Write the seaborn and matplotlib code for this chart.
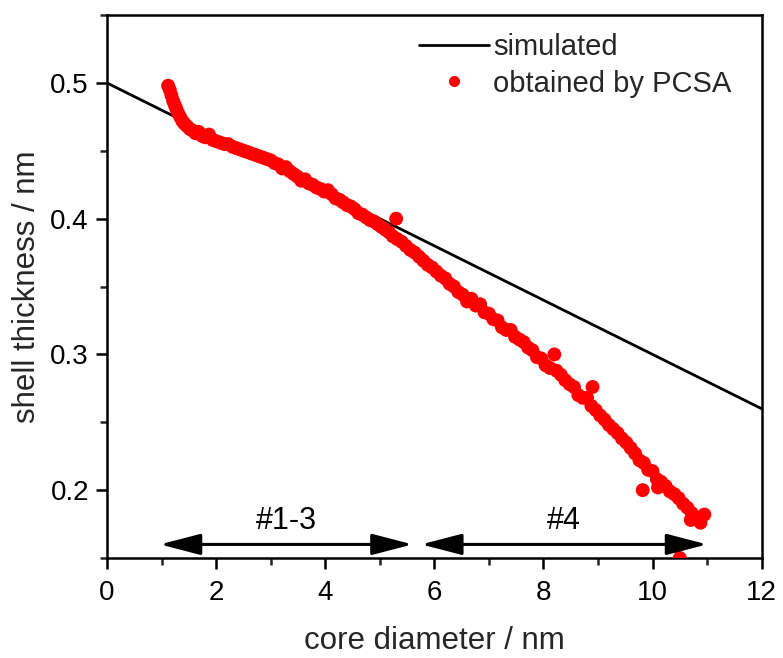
import numpy as np
import pandas as pd
import matplotlib
matplotlib.use("Agg")
import matplotlib.pyplot as plt
import seaborn as sns
from matplotlib.patches import FancyArrowPatch
from matplotlib.lines import Line2D
from matplotlib.ticker import MultipleLocator

# simulated line
sim_x = [0.0, 12.0]
sim_y = [0.500, 0.260]

# PCSA data
pcsa_x = [1.12, 1.15, 1.18, 1.21, 1.24, 1.27, 1.30, 1.34, 1.38, 1.42, 1.47, 1.52, 1.57, 1.62,
          1.68, 1.74, 1.80, 1.87, 1.94, 2.01,
          2.08, 2.15, 2.22, 2.30, 2.37, 2.44, 2.51, 2.58, 2.65, 2.72, 2.79, 2.86, 2.93, 3.00,
          3.07, 3.14, 3.21, 3.28, 3.35, 3.42, 3.49, 3.56, 3.63, 3.70, 3.77, 3.84, 3.91, 3.98,
          4.05, 4.12, 4.19, 4.26, 4.33, 4.40, 4.47, 4.54, 4.61, 4.68, 4.75, 4.82, 4.89, 4.96,
          5.03, 5.10, 5.17, 5.24, 5.30, 5.32,
          5.40, 5.48, 5.56, 5.64, 5.72, 5.80, 5.88, 5.96, 6.04, 6.12, 6.20, 6.28, 6.36, 6.44,
          6.52, 6.60, 6.68, 6.76, 6.84, 6.92, 7.00, 7.08, 7.16, 7.24, 7.32, 7.40, 7.48, 7.56,
          7.64, 7.72, 7.80, 7.88, 7.96, 8.04, 8.12, 8.20, 8.24, 8.32, 8.40, 8.48, 8.56, 8.64,
          8.72, 8.80, 8.90, 8.88, 8.96, 9.04, 9.12, 9.20, 9.28, 9.36, 9.44, 9.52, 9.60, 9.68,
          9.76, 9.82, 9.84, 9.92, 10.00, 10.08, 10.10, 10.16, 10.24, 10.32, 10.40, 10.48,
          10.56, 10.64, 10.70, 10.72, 10.80, 10.88, 10.95, 10.50]
pcsa_y = [0.498, 0.495, 0.491, 0.487, 0.484, 0.481, 0.478, 0.475, 0.472, 0.470, 0.468, 0.466, 0.465, 0.463,
          0.464, 0.461, 0.460, 0.462, 0.458, 0.457,
          0.456, 0.455, 0.455, 0.453, 0.452, 0.451, 0.450, 0.449, 0.448, 0.447, 0.446, 0.445, 0.444, 0.443,
          0.441, 0.440, 0.437, 0.438, 0.435, 0.433, 0.431, 0.428, 0.429, 0.426, 0.425, 0.423, 0.422, 0.420,
          0.421, 0.418, 0.415, 0.414, 0.412, 0.410, 0.409, 0.407, 0.404, 0.403, 0.401, 0.399, 0.398, 0.396,
          0.394, 0.392, 0.390, 0.387, 0.400, 0.385,
          0.383, 0.380, 0.377, 0.375, 0.372, 0.369, 0.366, 0.364, 0.361, 0.358, 0.356, 0.352, 0.350, 0.346,
          0.344, 0.339, 0.341, 0.336, 0.337, 0.331, 0.330, 0.326, 0.325, 0.320, 0.318, 0.318, 0.313, 0.311,
          0.309, 0.305, 0.303, 0.298, 0.297, 0.292, 0.290, 0.300, 0.288, 0.285, 0.281, 0.278, 0.276, 0.270,
          0.268, 0.268, 0.276, 0.262, 0.259, 0.255, 0.252, 0.248, 0.245, 0.242, 0.238, 0.235, 0.231, 0.227,
          0.222, 0.200, 0.220, 0.215, 0.214, 0.208, 0.202, 0.206, 0.203, 0.199, 0.197, 0.194,
          0.190, 0.187, 0.178, 0.183, 0.180, 0.176, 0.182, 0.150]

# range arrows and labels
range_labels = ["#1-3", "#4"]
range_start = [0.97, 5.76]
range_end = [5.60, 11.00]
arrow_y = 0.160
label_y = 0.166

sns.set_theme(style="ticks")
plt.rcParams['font.family'] = ['Liberation Sans', 'DejaVu Sans']

fig = plt.figure(figsize=(7.83, 6.58), dpi=100)
ax = fig.add_axes([0.1367, 0.152, 0.836, 0.825])

sim_df = pd.DataFrame({"x": sim_x, "y": sim_y})
pcsa_df = pd.DataFrame({"x": pcsa_x, "y": pcsa_y})

sns.lineplot(data=sim_df, x="x", y="y", ax=ax, color="black", linewidth=2.0, zorder=2)
sns.scatterplot(data=pcsa_df, x="x", y="y", ax=ax, color="#ff0000", s=100,
                edgecolor="none", linewidth=0, zorder=3)

for lab, xs, xe in zip(range_labels, range_start, range_end):
    arr = FancyArrowPatch((xs, arrow_y), (xe, arrow_y),
                          arrowstyle="<|-|>,head_length=25,head_width=6.5",
                          mutation_scale=1, color="black", linewidth=2.2,
                          shrinkA=0, shrinkB=0, zorder=4)
    ax.add_patch(arr)
    ax.text((xs + xe) / 2, label_y, lab, ha="center", va="bottom", fontsize=22, color="black")

ax.set_xlim(0, 12)
ax.set_ylim(0.15, 0.55)
ax.xaxis.set_major_locator(MultipleLocator(2))
ax.xaxis.set_minor_locator(MultipleLocator(1))
ax.set_yticks([0.2, 0.3, 0.4, 0.5])
ax.set_yticklabels(["0.2", "0.3", "0.4", "0.5"])
ax.yaxis.set_minor_locator(MultipleLocator(0.05))

ax.tick_params(which="major", direction="out", length=8, width=1.8, labelsize=20,
               top=False, right=False, colors="black", pad=5)
ax.tick_params(axis="x", which="major", pad=8)
ax.tick_params(which="minor", direction="out", length=5, width=1.8, top=False, right=False)

for sp in ax.spines.values():
    sp.set_visible(True)
    sp.set_linewidth(1.8)
    sp.set_color("black")

ax.set_xlabel("core diameter / nm", fontsize=22.5, labelpad=14)
ax.set_ylabel("shell thickness / nm", fontsize=22.5, labelpad=6)

handles = [Line2D([0], [0], color="black", linewidth=2.0),
           Line2D([0], [0], marker="o", color="#ff0000", linestyle="none", markersize=8,
                  markeredgewidth=0)]
ax.legend(handles, ["simulated", "obtained by PCSA"], loc="upper right", frameon=False,
          fontsize=21, handlelength=2.4, handletextpad=0.15, labelspacing=0.3,
          bbox_to_anchor=(0.985, 1.005), borderaxespad=0.3)

fig.savefig("out.png", dpi=100)
